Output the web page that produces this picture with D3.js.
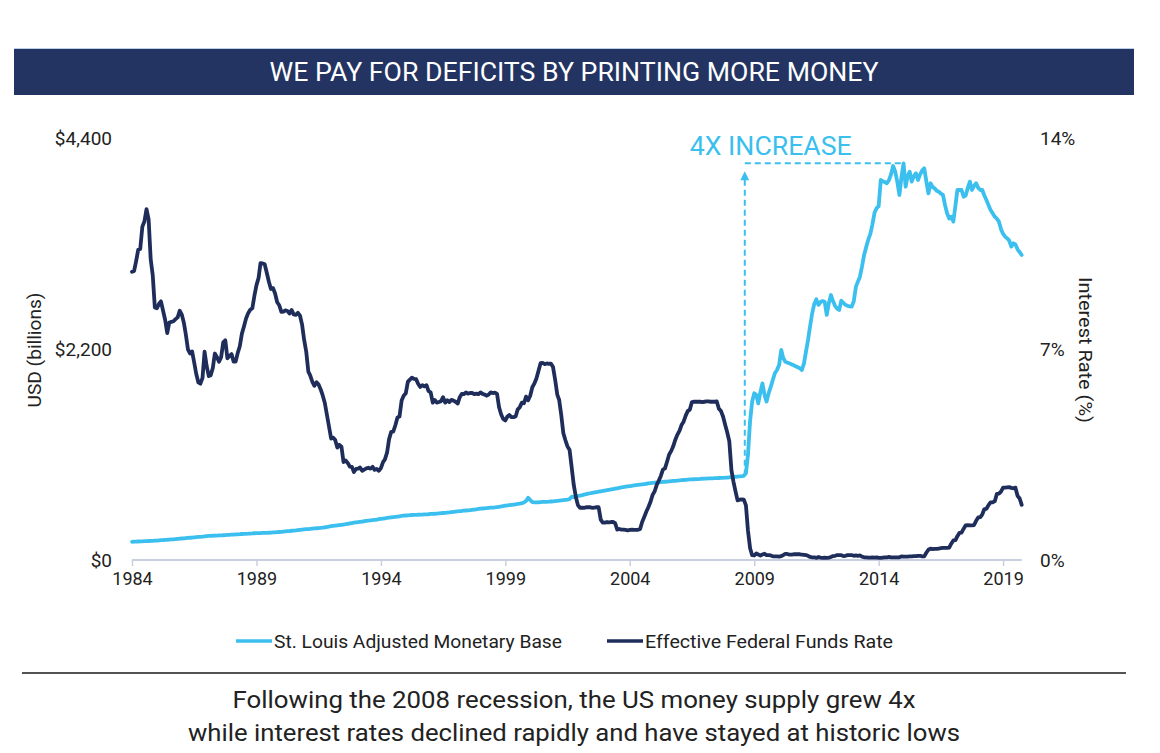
<!DOCTYPE html>
<html>
<head>
<meta charset="utf-8">
<script src="https://cdn.jsdelivr.net/npm/d3@7"></script>
<style>
  html, body { margin: 0; padding: 0; background: #ffffff; }
  svg { display: block; font-family: Roboto, "Noto Sans", "DejaVu Sans", sans-serif; }
</style>
</head>
<body>
<svg id="chart" width="1160" height="753"></svg>
<script>
// ---------------- DATA ----------------
const titleText = "WE PAY FOR DEFICITS BY PRINTING MORE MONEY";
const footerLines = [
  "Following the 2008 recession, the US money supply grew 4x",
  "while interest rates declined rapidly and have stayed at historic lows"
];
const seriesNames = ["St. Louis Adjusted Monetary Base", "Effective Federal Funds Rate"];
const startMonth = [1984, 0];   // January 1984, monthly observations
const yearTicks = [1984, 1989, 1994, 1999, 2004, 2009, 2014, 2019];
const leftTicks = [0, 2200, 4400];
const rightTicks = [0, 7, 14];
const annotationText = "4X INCREASE";

// St. Louis Adjusted Monetary Base, USD billions (monthly, Jan 1984 - Oct 2019)
const monetaryBase = [
  190,191,192,193,194,195,196,197,198,199,200,202,
  203,205,207,208,210,211,213,215,216,218,220,222,
  224,226,228,230,232,234,236,238,240,242,244,247,
  249,251,252,253,254,255,256,257,258,259,261,263,
  264,265,267,268,269,271,272,273,274,276,277,279,
  280,281,281,282,282,283,284,285,287,288,290,292,
  294,296,298,300,302,305,307,309,312,315,317,319,
  321,323,325,327,329,331,333,336,338,341,344,348,
  352,355,358,361,364,367,370,373,377,381,385,389,
  392,395,398,401,404,407,410,413,416,419,422,426,
  429,432,435,438,441,444,447,450,453,456,459,462,
  464,466,468,469,470,471,472,473,474,475,476,477,
  480,481,482,484,486,488,490,492,494,496,499,502,
  505,507,509,511,514,516,518,520,523,526,529,532,
  535,537,539,541,543,545,547,549,552,555,558,562,
  566,569,572,575,578,581,584,587,592,600,615,650,
  625,605,600,601,602,604,605,606,607,608,610,612,
  614,616,618,621,624,627,630,635,660,655,660,668,
  672,677,682,687,692,696,700,704,708,712,716,720,
  724,728,732,736,740,744,748,752,756,760,764,768,
  771,774,777,780,783,786,789,792,795,798,801,804,
  806,808,810,812,814,816,818,820,822,824,826,828,
  830,832,834,836,838,840,841,842,843,844,845,847,
  848,849,850,851,852,853,854,855,856,857,858,860,
  862,864,866,868,870,872,874,878,905,1100,1450,1650,
  1738,1720,1634,1750,1842,1720,1651,1740,1807,1880,1950,1981,
  2033,2190,2110,2068,2060,2050,2040,2033,2020,2010,2000,1981,
  2050,2180,2294,2440,2572,2670,2718,2660,2690,2700,2693,2555,
  2680,2763,2700,2650,2620,2607,2704,2680,2660,2650,2645,2641,
  2700,2850,2900,2954,3058,3180,3260,3340,3400,3500,3620,3667,
  3690,3962,3950,3940,3928,3960,4020,4108,4050,3945,3806,3990,
  4136,3892,4000,4049,3945,4000,4032,3962,4020,4060,4084,3950,
  3823,3928,3890,3875,3850,3840,3820,3806,3700,3615,3560,3580,
  3528,3700,3858,3858,3858,3788,3800,3880,3945,3858,3900,3928,
  3880,3858,3858,3800,3754,3700,3650,3615,3580,3560,3528,3450,
  3400,3371,3354,3330,3267,3302,3290,3240,3210,3180
];

// Effective Federal Funds Rate, percent (monthly, Jan 1984 - Oct 2019)
const fedFundsRate = [
  9.56,9.59,9.91,10.29,10.32,11.06,11.23,11.64,11.30,9.99,9.43,8.38,
  8.35,8.50,8.58,8.27,7.97,7.53,7.88,7.90,7.92,7.99,8.05,8.27,
  8.14,7.86,7.48,6.99,6.85,6.92,6.56,6.17,5.89,5.85,6.04,6.91,
  6.43,6.10,6.13,6.37,6.85,6.73,6.58,6.73,7.22,7.29,6.69,6.77,
  6.83,6.58,6.58,6.87,7.09,7.51,7.75,8.01,8.19,8.30,8.35,8.76,
  9.12,9.36,9.85,9.84,9.81,9.53,9.24,8.99,9.02,8.84,8.55,8.45,
  8.23,8.24,8.28,8.26,8.18,8.29,8.15,8.13,8.20,8.11,7.81,7.31,
  6.91,6.25,6.12,5.91,5.78,5.90,5.82,5.66,5.45,5.21,4.81,4.43,
  4.03,4.06,3.98,3.73,3.82,3.76,3.25,3.30,3.22,3.10,3.09,2.92,
  3.02,3.03,3.07,2.96,3.00,3.04,3.06,3.03,3.09,2.99,3.02,2.96,
  3.05,3.25,3.34,3.56,4.01,4.25,4.26,4.47,4.73,4.76,5.29,5.45,
  5.53,5.92,5.98,6.05,6.01,6.00,5.85,5.74,5.80,5.76,5.80,5.60,
  5.56,5.22,5.31,5.22,5.24,5.27,5.40,5.22,5.30,5.24,5.31,5.29,
  5.25,5.19,5.39,5.51,5.50,5.56,5.52,5.54,5.54,5.50,5.52,5.50,
  5.56,5.51,5.49,5.45,5.49,5.56,5.54,5.55,5.51,5.07,4.83,4.68,
  4.63,4.76,4.81,4.74,4.74,4.76,4.99,5.07,5.22,5.20,5.42,5.30,
  5.45,5.73,5.85,6.02,6.27,6.53,6.54,6.50,6.52,6.51,6.51,6.40,
  5.98,5.49,5.31,4.80,4.21,3.97,3.77,3.65,3.07,2.49,2.09,1.82,
  1.73,1.74,1.73,1.75,1.75,1.75,1.73,1.74,1.75,1.75,1.34,1.24,
  1.24,1.26,1.25,1.26,1.26,1.22,1.01,1.03,1.01,1.01,1.00,0.98,
  1.00,1.01,1.00,1.00,1.00,1.03,1.26,1.43,1.61,1.76,1.93,2.16,
  2.28,2.50,2.63,2.79,3.00,3.04,3.26,3.50,3.62,3.78,4.00,4.16,
  4.29,4.49,4.59,4.79,4.94,4.99,5.24,5.25,5.25,5.25,5.25,5.24,
  5.25,5.26,5.26,5.25,5.25,5.25,5.26,5.02,4.94,4.76,4.49,4.24,
  3.94,2.98,2.61,2.28,1.98,2.00,2.01,2.00,1.81,0.97,0.39,0.16,
  0.15,0.22,0.18,0.15,0.18,0.21,0.16,0.16,0.15,0.12,0.12,0.12,
  0.11,0.13,0.16,0.20,0.20,0.18,0.18,0.19,0.19,0.19,0.19,0.18,
  0.17,0.16,0.14,0.10,0.09,0.09,0.07,0.10,0.08,0.07,0.08,0.07,
  0.08,0.10,0.13,0.14,0.16,0.16,0.16,0.13,0.14,0.16,0.16,0.16,
  0.14,0.15,0.14,0.15,0.11,0.09,0.09,0.08,0.08,0.09,0.08,0.09,
  0.07,0.07,0.08,0.09,0.09,0.10,0.09,0.09,0.09,0.09,0.09,0.12,
  0.11,0.11,0.11,0.12,0.12,0.13,0.13,0.14,0.14,0.12,0.12,0.24,
  0.34,0.38,0.36,0.37,0.37,0.38,0.39,0.40,0.40,0.40,0.41,0.54,
  0.65,0.66,0.79,0.90,0.91,1.04,1.15,1.16,1.15,1.15,1.16,1.30,
  1.41,1.42,1.51,1.69,1.70,1.82,1.91,1.91,1.95,2.19,2.20,2.27,
  2.40,2.40,2.41,2.42,2.39,2.38,2.40,2.13,2.04,1.83
];

// Annotation anchor (date of jump start)
const jumpDate = [2008, 7, 15]; // mid-August 2008

// ---------------- STYLE ----------------
const colBase = "#3bbfee";
const colRate = "#1f2d5b";
const colBar = "#233462";
const colAxis = "#c9cfe0";
const colText = "#222222";

// ---------------- DRAW ----------------
const svg = d3.select("#chart");

const dates = d3.utcMonth.range(new Date(Date.UTC(startMonth[0], startMonth[1], 1)),
                                 new Date(Date.UTC(2019, 10, 1)));
const baseData = monetaryBase.map((v, i) => ({ d: dates[i], v }));
const rateData = fedFundsRate.map((v, i) => ({ d: dates[i], v }));

const x = d3.scaleUtc()
  .domain([dates[0], dates[dates.length - 1]])
  .range([132, 1021.7]);
const yL = d3.scaleLinear().domain([0, 4400]).range([560, 138]);
const yR = d3.scaleLinear().domain([0, 14]).range([560, 138]);

// Title bar
svg.append("rect").attr("x", 14).attr("y", 48).attr("width", 1120).attr("height", 47).attr("fill", colBar);
svg.append("line").attr("x1", 14).attr("x2", 1134).attr("y1", 48.5).attr("y2", 48.5)
  .attr("stroke", "#b9d0e6").attr("stroke-width", 1);
svg.append("text").attr("x", 574).attr("y", 81).attr("text-anchor", "middle")
  .attr("fill", "#ffffff").attr("font-size", 25)
  .attr("textLength", 609).attr("lengthAdjust", "spacingAndGlyphs")
  .text(titleText);

// X axis
const xAxis = d3.axisBottom(x)
  .tickValues(yearTicks.map(y => new Date(Date.UTC(y, 0, 1))))
  .tickFormat(d3.utcFormat("%Y"))
  .tickSize(6).tickPadding(6);
const gx = svg.append("g").attr("transform", "translate(0,560)").call(xAxis);
gx.select(".domain").attr("stroke", colAxis).attr("stroke-width", 2)
  .attr("d", `M${x.range()[0]},0H${x.range()[1]}`);
gx.selectAll(".tick line").attr("stroke", colAxis).attr("stroke-width", 1.5);
gx.selectAll(".tick text").attr("fill", colText).attr("font-size", 18)
  .attr("font-family", "Roboto, sans-serif");

// Left axis
const gl = svg.append("g").attr("transform", "translate(112,0)")
  .call(d3.axisLeft(yL).tickValues(leftTicks).tickFormat(d => "$" + d3.format(",")(d)).tickSize(0).tickPadding(0));
gl.select(".domain").remove();
gl.selectAll(".tick text").attr("fill", colText).attr("font-size", 19).attr("font-family", "Roboto, sans-serif");

// Right axis
const gr = svg.append("g").attr("transform", "translate(1040,0)")
  .call(d3.axisRight(yR).tickValues(rightTicks).tickFormat(d => d + "%").tickSize(0).tickPadding(0));
gr.select(".domain").remove();
gr.selectAll(".tick text").attr("fill", colText).attr("font-size", 19).attr("font-family", "Roboto, sans-serif");

// Axis titles
svg.append("text").attr("transform", "translate(41,350) rotate(-90)")
  .attr("text-anchor", "middle").attr("fill", colText).attr("font-size", 18)
  .attr("textLength", 115).attr("lengthAdjust", "spacingAndGlyphs")
  .text("USD (billions)");
svg.append("text").attr("transform", "translate(1079,350) rotate(90)")
  .attr("text-anchor", "middle").attr("fill", colText).attr("font-size", 18)
  .attr("textLength", 146).attr("lengthAdjust", "spacingAndGlyphs")
  .text("Interest Rate (%)");

// Lines
const lineBase = d3.line().x(d => x(d.d)).y(d => yL(d.v));
const lineRate = d3.line().x(d => x(d.d)).y(d => yR(d.v));

svg.append("path").datum(baseData).attr("d", lineBase)
  .attr("fill", "none").attr("stroke", colBase).attr("stroke-width", 3.8)
  .attr("stroke-linejoin", "round").attr("stroke-linecap", "round");
svg.append("path").datum(rateData).attr("d", lineRate)
  .attr("fill", "none").attr("stroke", colRate).attr("stroke-width", 3.8)
  .attr("stroke-linejoin", "round").attr("stroke-linecap", "round");

// Annotation: 4X increase
const jd = new Date(Date.UTC(jumpDate[0], jumpDate[1], jumpDate[2]));
const peak = baseData.reduce((a, b) => (b.v > a.v ? b : a));
const preJump = baseData.filter(d => d.d <= jd).pop();
const ax = x(jd), yTop = yL(peak.v), yBottom = yL(preJump.v);
svg.append("line").attr("x1", ax).attr("x2", x(peak.d)).attr("y1", yTop).attr("y2", yTop)
  .attr("stroke", colBase).attr("stroke-width", 2).attr("stroke-dasharray", "6,4");
svg.append("line").attr("x1", ax).attr("x2", ax).attr("y1", yBottom).attr("y2", yTop + 15)
  .attr("stroke", colBase).attr("stroke-width", 2).attr("stroke-dasharray", "6,4");
svg.append("path")
  .attr("d", `M${ax},${yTop + 8}L${ax - 4.5},${yTop + 17}L${ax + 4.5},${yTop + 17}Z`)
  .attr("fill", colBase);
svg.append("text").attr("x", ax - 55).attr("y", yTop - 8)
  .attr("fill", colBase).attr("font-size", 25)
  .attr("textLength", 162).attr("lengthAdjust", "spacingAndGlyphs")
  .text(annotationText);

// Legend
const legend = [
  { name: seriesNames[0], color: colBase, x0: 236, tl: 288 },
  { name: seriesNames[1], color: colRate, x0: 607, tl: 248 }
];
const lg = svg.append("g");
legend.forEach(l => {
  lg.append("line").attr("x1", l.x0).attr("x2", l.x0 + 36).attr("y1", 641).attr("y2", 641)
    .attr("stroke", l.color).attr("stroke-width", 3.5);
  lg.append("text").attr("x", l.x0 + 38).attr("y", 647.5).attr("fill", colText)
    .attr("font-size", 18).attr("textLength", l.tl).attr("lengthAdjust", "spacingAndGlyphs")
    .text(l.name);
});

// Footer rule + text
svg.append("line").attr("x1", 22).attr("x2", 1126).attr("y1", 673).attr("y2", 673)
  .attr("stroke", "#1a1a1a").attr("stroke-width", 1.5);
const footerLen = [683, 772];
footerLines.forEach((t, i) => {
  svg.append("text").attr("x", 574).attr("y", 708 + i * 33).attr("text-anchor", "middle")
    .attr("fill", colText).attr("font-size", 24)
    .attr("textLength", footerLen[i]).attr("lengthAdjust", "spacingAndGlyphs")
    .text(t);
});
</script>
</body>
</html>
